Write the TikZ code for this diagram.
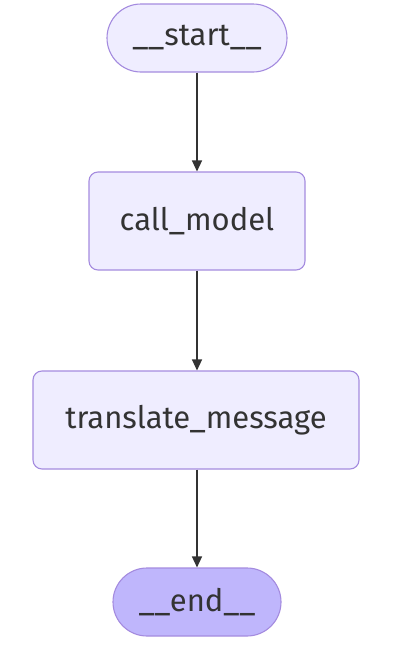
\documentclass[tikz,border=0pt]{standalone}
\usepackage{fontspec}
\setmainfont{Fira Sans}
\usetikzlibrary{arrows.meta}
\definecolor{nodefill}{HTML}{EFEDFF}
\definecolor{nodeline}{HTML}{A48BDF}
\definecolor{endfill}{HTML}{BFB6FC}
\definecolor{txt}{HTML}{333333}
\begin{document}
\begin{tikzpicture}[x=1pt,y=-1pt,
  base/.style={draw=nodeline, line width=1.1pt, fill=nodefill, text=txt,
    font=\fontsize{31}{36}\selectfont, inner sep=0pt, anchor=center},
  term/.style={base, rounded corners=34pt},
  proc/.style={base, rounded corners=9pt},
  flow/.style={draw=txt, line width=1.3pt, -{Triangle[length=11pt,width=10pt]}}]
\useasboundingbox (0,0) rectangle (406,656);
\node[term, minimum width=180pt, minimum height=68pt] (start) at (197,38) {\_\_start\_\_};
\node[proc, minimum width=216pt, minimum height=98pt] (model) at (197,221) {call\_model};
\node[proc, minimum width=326pt, minimum height=98pt] (trans) at (196,420) {translate\_message};
\node[term, fill=endfill, minimum width=168pt, minimum height=68pt] (end) at (197,602) {\_\_end\_\_};
\draw[flow] (start) -- (model);
\draw[flow] (model.south) -- (model.south |- trans.north);
\draw[flow] (trans.south -| end) -- (end);
\end{tikzpicture}
\end{document}
